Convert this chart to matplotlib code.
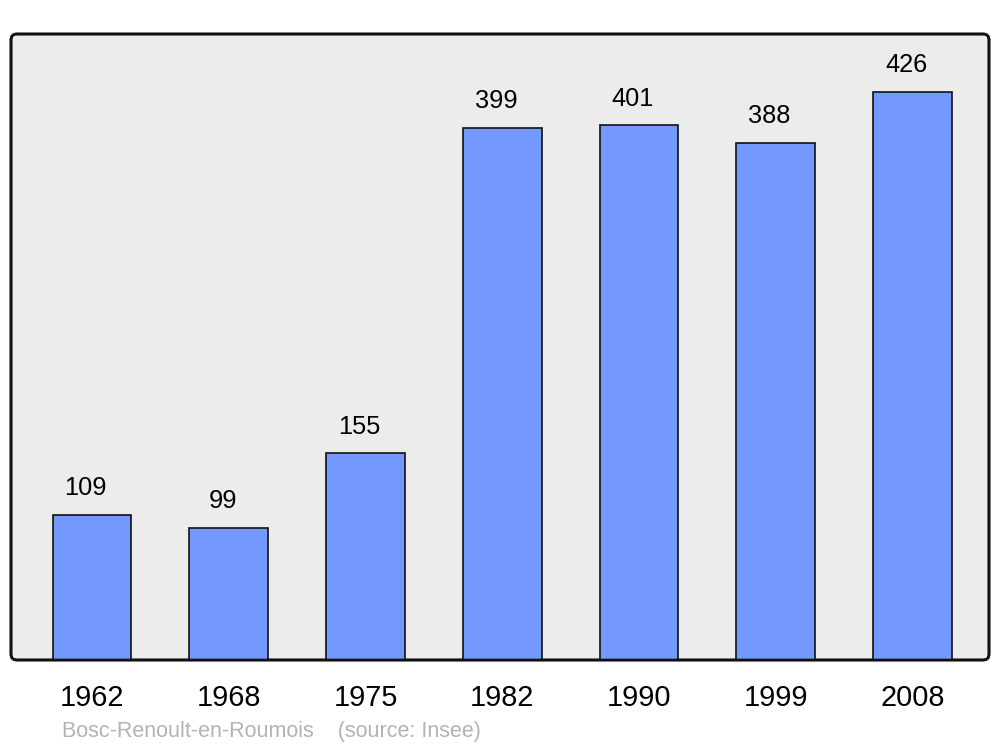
import matplotlib
matplotlib.use("Agg")
import matplotlib.pyplot as plt
from matplotlib.patches import FancyBboxPatch

years = ["1962", "1968", "1975", "1982", "1990", "1999", "2008"]
population = [109, 99, 155, 399, 401, 388, 426]
source_text = "Bosc-Renoult-en-Roumois    (source: Insee)"

plt.rcParams['font.family'] = ['Liberation Sans', 'DejaVu Sans']

W, H = 1000, 747
fig = plt.figure(figsize=(W / 100, H / 100), dpi=100)
ax = fig.add_axes([11 / W, (H - 660) / H, 978 / W, 626 / H])
ax.patch.set_visible(False)
for s in ax.spines.values():
    s.set_visible(False)

frame = FancyBboxPatch((0, 0), 1, 1, boxstyle="round,pad=0,rounding_size=0.006",
                       mutation_aspect=978 / 626,
                       transform=ax.transAxes, facecolor="#ececec",
                       edgecolor="#111111", linewidth=1.9, zorder=0, clip_on=False)
ax.add_patch(frame)
frame2 = FancyBboxPatch((0, 0), 1, 1, boxstyle="round,pad=0,rounding_size=0.006",
                        mutation_aspect=978 / 626,
                        transform=ax.transAxes, facecolor="none",
                        edgecolor="#111111", linewidth=1.9, zorder=5, clip_on=False)
ax.add_patch(frame2)

x = list(range(len(years)))
ax.bar(x, population, width=0.575, color="#7399ff", edgecolor="#111111",
       linewidth=1.2, zorder=2)

for xi, v in zip(x, population):
    ax.annotate(str(v), (xi, v), xytext=(-4.5, 14.2), textcoords="offset points",
                ha="center", va="baseline", fontsize=18.3, color="black")

ax.set_xlim(-0.593, 6.56)
ax.set_ylim(0, 469.5)
ax.set_xticks(x)
ax.set_xticklabels(years, fontsize=20.8)
ax.tick_params(axis="x", length=0, pad=17.5)
ax.set_yticks([])

fig.text(62 / W, (H - 737) / H, source_text, fontsize=15.5, color="#b3b3b3",
         ha="left", va="baseline")

fig.savefig("out.png", dpi=100)
